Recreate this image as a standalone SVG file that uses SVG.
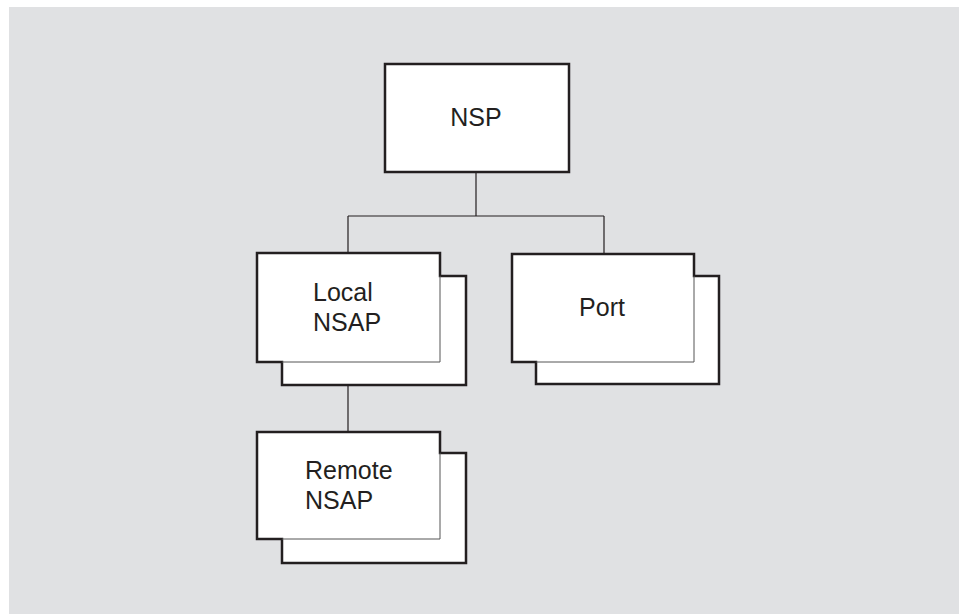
<svg xmlns="http://www.w3.org/2000/svg" width="961" height="614" viewBox="0 0 961 614">
<style>
.box{fill:#fff;stroke:#231f20;stroke-width:2.5}
.inner{fill:none;stroke:#555;stroke-width:1}
.ln{fill:none;stroke:#231f20;stroke-width:1.2}
.t{font-family:"Liberation Sans",Arial,sans-serif;font-size:25px;fill:#231f20}
</style>
<rect x="9" y="7" width="950" height="607" fill="#e0e1e3"/>
<g id="connectors">
<path class="ln" d="M476 173V216M348 216H604M348 216V253M604 216V254M348 385V432"/>
</g>
<g id="nsp">
<rect class="box" x="385" y="64" width="184" height="108"/>
<text class="t" x="476" y="126" text-anchor="middle">NSP</text>
</g>
<g id="local-nsap">
<path class="box" d="M257 253H440V276H466V385H282V362H257Z"/>
<path class="inner" d="M440 276V362H282"/>
<text class="t" x="313" y="301">Local</text>
<text class="t" x="313" y="331">NSAP</text>
</g>
<g id="port">
<path class="box" d="M512 254H694V276H719V384H536V362H512Z"/>
<path class="inner" d="M694 276V362H536"/>
<text class="t" x="602" y="316" text-anchor="middle">Port</text>
</g>
<g id="remote-nsap">
<path class="box" d="M257 432H440V453H466V563H282V539H257Z"/>
<path class="inner" d="M440 453V539H282"/>
<text class="t" x="305" y="479">Remote</text>
<text class="t" x="305" y="509">NSAP</text>
</g>
</svg>
